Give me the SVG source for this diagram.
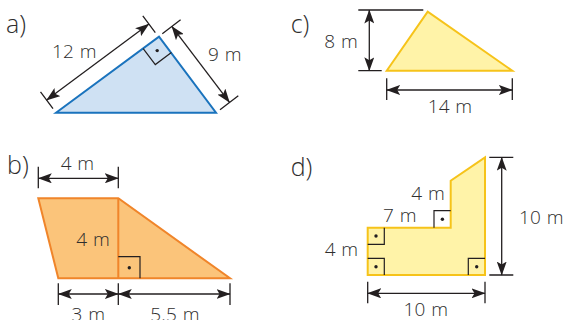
<svg xmlns="http://www.w3.org/2000/svg" width="564" height="320" viewBox="0 0 564 320">
<style>
.t{font-family:"Open Sans","Liberation Sans",sans-serif;font-size:19px;font-weight:300;letter-spacing:0.2px;word-spacing:0.5px;fill:#2e2e2e}
.lb{font-family:"Open Sans","Liberation Sans",sans-serif;font-size:25px;font-weight:300;fill:#2e2e2e}
.dim{stroke:#231f20;stroke-width:1.3;fill:none}
.arr{stroke:#231f20;stroke-width:1.3;fill:none;marker-start:url(#ah);marker-end:url(#ah)}
.ra{stroke:#231f20;stroke-width:1.2;fill:none}
.dot{fill:#231f20}
.blue{fill:#cfe1f3;stroke:#1a73bd;stroke-width:2;stroke-linejoin:miter}
.yel{fill:#fff3a8;stroke:#f6c31a;stroke-width:2}
.org{fill:#fbc47a;stroke:#f0852a;stroke-width:2}
</style>
<defs>
<marker id="ah" viewBox="0 0 14 10" refX="13.5" refY="5" markerWidth="14" markerHeight="10" markerUnits="userSpaceOnUse" orient="auto-start-reverse">
<path d="M0,0 L14,5 L0,10 L3,5 Z" fill="#231f20"/>
</marker>
</defs>

<g id="shape-a">
<path class="blue" d="M56,112.7 L159,36.7 L216,112.7 Z"/>
<path class="ra" d="M143.2,48.6 L155.3,64.6 L171.4,52.6"/>
<circle class="dot" cx="157.2" cy="50.6" r="1.7"/>
<text class="lb" x="6" y="33">a)</text>
<text class="t" x="52" y="58">12 m</text>
<text class="t" x="208" y="60.5">9 m</text>
</g>

<g id="shape-c">
<path class="yel" d="M386.7,70.7 L427.7,11.7 L512.3,70.7 Z"/>
<text class="lb" x="290.7" y="33">c)</text>
<text class="t" x="358" y="47.5" text-anchor="end">8 m</text>
<text class="t" x="450" y="112.5" text-anchor="middle">14 m</text>
</g>

<g id="shape-b">
<path class="org" d="M38.3,198.3 L118.3,198.3 L230,278.3 L58.3,278.3 Z"/>
<path class="org" d="M118.3,198.3 V278.3"/>
<path class="ra" d="M118.3,256.7 H140 V278.3"/>
<circle class="dot" cx="129.3" cy="267.7" r="1.7"/>
<text class="lb" x="7" y="174">b)</text>
<text class="t" x="77.5" y="169.5" text-anchor="middle">4 m</text>
<text class="t" x="110" y="245.5" text-anchor="end">4 m</text>
<text class="t" x="88.3" y="320.5" text-anchor="middle">3 m</text>
<text class="t" x="175" y="320.5" text-anchor="middle">5.5 m</text>
</g>

<g id="shape-d">
<path class="yel" d="M367.7,275 V227.7 H450.7 V180.7 L485,157.3 V275 Z"/>
<path class="ra" d="M367.7,244.3 H384.3 V227.7"/>
<path class="ra" d="M367.7,258.3 H384.3 V275"/>
<path class="ra" d="M468.3,275 V258.3 H485"/>
<path class="ra" d="M434,227.7 V210.7 H450.7"/>
<circle class="dot" cx="376" cy="236" r="1.7"/>
<circle class="dot" cx="376" cy="266.7" r="1.7"/>
<circle class="dot" cx="476.7" cy="266.7" r="1.7"/>
<circle class="dot" cx="442.4" cy="219.2" r="1.7"/>
<text class="lb" x="290.7" y="176">d)</text>
<text class="t" x="445" y="199.8" text-anchor="end">4 m</text>
<text class="t" x="416.7" y="222.2" text-anchor="end">7 m</text>
<text class="t" x="358.3" y="255.5" text-anchor="end">4 m</text>
<text class="t" x="519" y="223.8">10 m</text>
<text class="t" x="425.8" y="315.5" text-anchor="middle">10 m</text>
</g>

<g id="connectors">
<path class="dim" d="M53,108.7 L40.5,91.8 M155.3,32.7 L142.8,15.8"/>
<path class="arr" d="M46.6,100.1 L148.9,24.1"/>
<path class="dim" d="M162.3,33.7 L180.6,19.8 M220,109.7 L238.3,95.8"/>
<path class="arr" d="M171.8,26.4 L229.5,102.4"/>
<path class="dim" d="M358.3,10 H423.3 M358.3,70.7 H381.7"/>
<path class="arr" d="M369.3,10 V70.7"/>
<path class="dim" d="M386.7,78.3 V100 M512.3,78.3 V100"/>
<path class="arr" d="M386.7,90 H512.3"/>
<path class="dim" d="M38.3,166.7 V188.3 M118.3,166.7 V188.3"/>
<path class="arr" d="M38.3,178.3 H118.3"/>
<path class="dim" d="M58.3,283.3 V305 M118.3,283.3 V305 M230,283.3 V305"/>
<path class="arr" d="M58.3,294 H118.3"/>
<path class="arr" d="M118.3,294 H230"/>
<path class="dim" d="M489.3,157.3 H513.3 M489.3,275 H513.3"/>
<path class="arr" d="M501.7,157.3 V275"/>
<path class="dim" d="M367.7,281.7 V303.3 M485,281.7 V303.3"/>
<path class="arr" d="M367.7,293.3 H485"/>
</g>
</svg>
